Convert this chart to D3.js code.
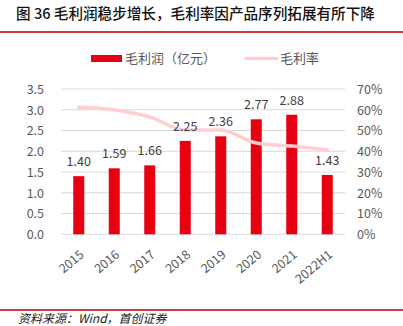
<!DOCTYPE html>
<html><head><meta charset="utf-8">
<script src="https://cdn.jsdelivr.net/npm/d3@7"></script>
<style>body{margin:0;background:#fff}svg{display:block}</style>
</head><body>
<script>
const categories = ["2015","2016","2017","2018","2019","2020","2021","2022H1"];
const profit = [1.40,1.59,1.66,2.25,2.36,2.77,2.88,1.43];
const margin = [61.2,60.0,56.5,50.2,50.3,44.0,42.5,40.7];
const leftTicks = [0,0.5,1.0,1.5,2.0,2.5,3.0,3.5];
const rightTicks = [0,10,20,30,40,50,60,70];
const seriesNames = ["毛利润（亿元）","毛利率"];
const title = "图 36 毛利润稳步增长，毛利率因产品序列拓展有所下降";
const source = "资料来源：Wind，首创证券";

const W=403,H=326;
const svg=d3.select("body").append("svg").attr("width",W).attr("height",H);
const font="'Noto Sans CJK SC','Noto Sans',sans-serif";
const gray="#595959";

svg.append("text").attr("x",16).attr("y",19).text(title)
  .attr("font-family",font).attr("font-size",14.6).attr("font-weight",500).attr("fill","#111");
svg.append("line").attr("x1",0).attr("x2",W).attr("y1",32).attr("y2",32).attr("stroke","#c00000").attr("stroke-width",1.5);

const x=d3.scaleBand().domain(categories).range([61,345]).paddingInner(0.69).paddingOuter(0.345);
const y=d3.scaleLinear().domain([0,3.5]).range([234.3,89]);
const y2=d3.scaleLinear().domain([0,70]).range([234.3,89]);

// grid
svg.append("g").selectAll("line").data(leftTicks).join("line")
  .attr("x1",61).attr("x2",345).attr("y1",d=>y(d)).attr("y2",d=>y(d))
  .attr("stroke","#d9d9d9").attr("stroke-width",1);

// left axis
const ga=svg.append("g").attr("transform","translate(44,0)")
  .call(d3.axisLeft(y).tickValues(leftTicks).tickFormat(d3.format(".1f")).tickSize(0).tickPadding(0));
ga.select(".domain").remove();
ga.selectAll("text").attr("font-family",font).attr("font-size",12.5).attr("fill",gray).attr("dy","0.35em");
// right axis
const gr=svg.append("g").attr("transform","translate(357,0)")
  .call(d3.axisRight(y2).tickValues(rightTicks).tickFormat(d=>d+"%").tickSize(0).tickPadding(0));
gr.select(".domain").remove();
gr.selectAll("text").attr("font-family",font).attr("font-size",12.5).attr("fill",gray).attr("dy","0.35em");

// bars
const bw=x.bandwidth();
svg.append("g").selectAll("rect").data(profit).join("rect")
  .attr("x",(d,i)=>x(categories[i])).attr("width",bw)
  .attr("y",d=>y(d)).attr("height",d=>y(0)-y(d)).attr("fill","#e60012");

// line
const line=d3.line().x((d,i)=>x(categories[i])+bw/2).y(d=>y2(d)).curve(d3.curveMonotoneX);
svg.append("path").datum(margin).attr("d",line).attr("fill","none")
  .attr("stroke","#ffcdd2").attr("stroke-width",3.5).attr("stroke-linecap","round");

// labels
svg.append("g").selectAll("text").data(profit).join("text")
  .attr("x",(d,i)=>x(categories[i])+bw/2).attr("y",d=>y(d)-10)
  .attr("text-anchor","middle").text(d=>d.toFixed(2))
  .attr("font-family",font).attr("font-size",12.5).attr("fill","#404040");

// x labels
svg.append("g").selectAll("text").data(categories).join("text")
  .attr("transform",d=>`translate(${x(d)+bw/2+6},${256}) rotate(-40)`)
  .attr("text-anchor","end").text(d=>d)
  .attr("font-family",font).attr("font-size",12.5).attr("fill",gray);

// legend
svg.append("rect").attr("x",91).attr("y",55).attr("width",31).attr("height",7).attr("fill","#e60012");
svg.append("text").attr("x",125).attr("y",63).text(seriesNames[0]).attr("font-family",font).attr("font-size",13).attr("fill",gray);
svg.append("line").attr("x1",246).attr("x2",277).attr("y1",58.5).attr("y2",58.5).attr("stroke","#ffcdd2").attr("stroke-width",3.5).attr("stroke-linecap","round");
svg.append("text").attr("x",280).attr("y",63).text(seriesNames[1]).attr("font-family",font).attr("font-size",13).attr("fill",gray);

// bottom
svg.append("line").attr("x1",0).attr("x2",W).attr("y1",310).attr("y2",310).attr("stroke","#c00000").attr("stroke-width",1.5);
svg.append("text").attr("x",18).attr("y",323).text(source).attr("font-family",font).attr("font-size",12).attr("font-style","italic").attr("fill","#222");
</script>
</body></html>
